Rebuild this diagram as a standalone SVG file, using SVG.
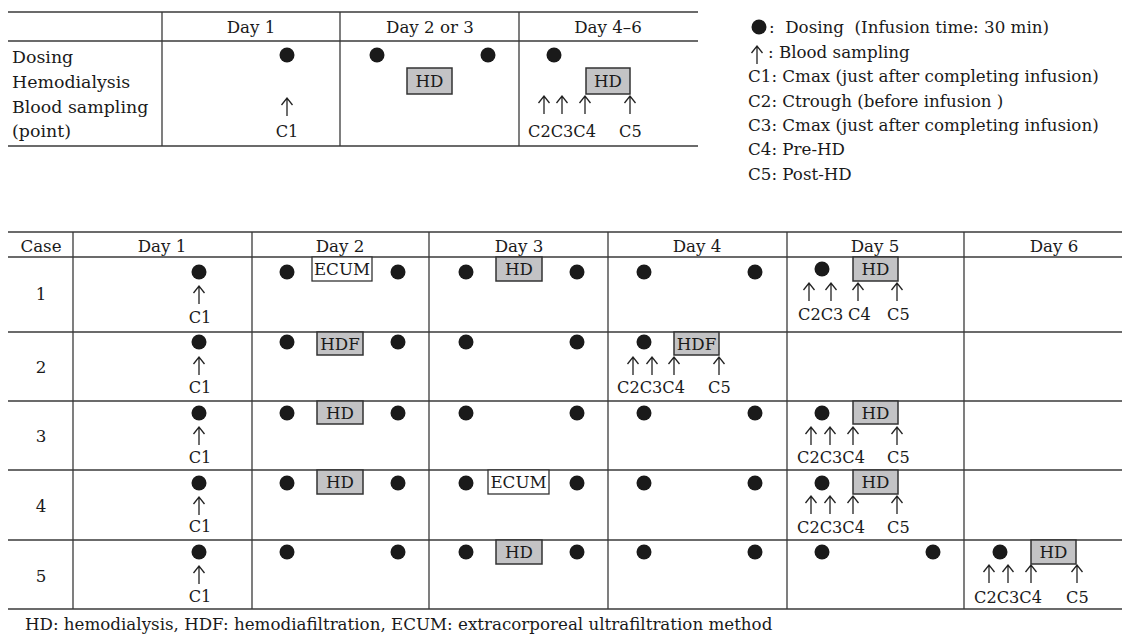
<svg xmlns="http://www.w3.org/2000/svg" width="1131" height="635" viewBox="0 0 1131 635">
<style>
text{font-family:"DejaVu Serif","Liberation Serif",serif;font-size:16.7px;fill:#1a1a1a;}
.c{text-anchor:middle;}
.s{font-size:16.2px;}
.ln{stroke:#3a3a3a;stroke-width:1.7;fill:none;}
.vl{stroke:#3a3a3a;stroke-width:1.3;fill:none;}
.dot{fill:#1a1a1a;}
.hd{fill:#c3c3c5;stroke:#333;stroke-width:1.5;}
.wb{fill:#fff;stroke:#333;stroke-width:1.3;}
.arr{stroke:#222;stroke-width:1.3;fill:none;}
</style>
<defs>
<path id="ar" class="arr" d="M0,0 V18 M-5.5,7 L0,0 L5.5,7"/>
</defs>
<rect width="1131" height="635" fill="#fff"/>

<g id="top-table">
<line class="ln" x1="8" y1="12" x2="698" y2="12"/>
<line class="ln" x1="8" y1="41" x2="698" y2="41"/>
<line class="ln" x1="8" y1="146" x2="698" y2="146"/>
<line class="vl" x1="162" y1="12" x2="162" y2="146"/>
<line class="vl" x1="340" y1="12" x2="340" y2="146"/>
<line class="vl" x1="519" y1="12" x2="519" y2="146"/>
<text class="c" x="251" y="33">Day 1</text>
<text class="c" x="430" y="33">Day 2 or 3</text>
<text class="c" x="608" y="33">Day 4–6</text>
<text x="12" y="63" style="font-size:17.4px">Dosing</text>
<text x="12" y="88" style="font-size:17.4px">Hemodialysis</text>
<text x="12" y="113" style="font-size:17.4px">Blood sampling</text>
<text x="12" y="137" style="font-size:17.4px">(point)</text>
<circle class="dot" cx="287" cy="55" r="7.5"/>
<use href="#ar" x="287" y="98"/>
<text class="c s" x="287" y="137">C1</text>
<circle class="dot" cx="377" cy="55" r="7.5"/>
<circle class="dot" cx="488" cy="55" r="7.5"/>
<rect class="hd" x="407" y="68" width="45" height="26"/>
<text class="c" x="429.5" y="87">HD</text>
<circle class="dot" cx="554" cy="55" r="7.5"/>
<rect class="hd" x="586" y="68" width="44" height="26"/>
<text class="c" x="608" y="87">HD</text>
<use href="#ar" x="544" y="96"/>
<use href="#ar" x="562" y="96"/>
<use href="#ar" x="585" y="96"/>
<use href="#ar" x="630" y="96"/>
<text class="s" x="528" y="137">C2C3C4</text>
<text class="s" x="619" y="137">C5</text>
</g>

<g id="legend">
<circle class="dot" cx="759" cy="27" r="7.5"/>
<text x="769" y="33" xml:space="preserve">:  Dosing  (Infusion time: 30 min)</text>
<use href="#ar" x="757" y="46"/>
<text x="768" y="58">: Blood sampling</text>
<text x="748" y="82">C1: Cmax (just after completing infusion)</text>
<text x="748" y="107">C2: Ctrough (before infusion )</text>
<text x="748" y="131">C3: Cmax (just after completing infusion)</text>
<text x="748" y="155">C4: Pre-HD</text>
<text x="748" y="180">C5: Post-HD</text>
</g>

<g id="bottom-grid">
<line class="ln" x1="8" y1="232" x2="1122" y2="232"/>
<line class="ln" x1="8" y1="257" x2="1122" y2="257"/>
<line class="ln" x1="8" y1="332" x2="1122" y2="332"/>
<line class="ln" x1="8" y1="401" x2="1122" y2="401"/>
<line class="ln" x1="8" y1="470" x2="1122" y2="470"/>
<line class="ln" x1="8" y1="540" x2="1122" y2="540"/>
<line class="ln" x1="8" y1="609" x2="1122" y2="609"/>
<line class="vl" x1="73" y1="232" x2="73" y2="609"/>
<line class="vl" x1="252" y1="232" x2="252" y2="609"/>
<line class="vl" x1="429" y1="232" x2="429" y2="609"/>
<line class="vl" x1="608" y1="232" x2="608" y2="609"/>
<line class="vl" x1="787" y1="232" x2="787" y2="609"/>
<line class="vl" x1="964" y1="232" x2="964" y2="609"/>
<text class="c" x="41" y="252">Case</text>
<text class="c" x="162" y="252">Day 1</text>
<text class="c" x="340" y="252">Day 2</text>
<text class="c" x="519" y="252">Day 3</text>
<text class="c" x="697" y="252">Day 4</text>
<text class="c" x="875" y="252">Day 5</text>
<text class="c" x="1054" y="252">Day 6</text>
</g>

<g id="case1">
<text class="c" x="41" y="300">1</text>
<circle class="dot" cx="199" cy="272" r="7.5"/>
<use href="#ar" x="199" y="286"/>
<text class="c s" x="200" y="323">C1</text>
<circle class="dot" cx="287" cy="272" r="7.5"/>
<rect class="wb" x="312" y="257" width="60" height="24"/>
<text class="c" x="342" y="275">ECUM</text>
<circle class="dot" cx="398" cy="272" r="7.5"/>
<circle class="dot" cx="466" cy="272" r="7.5"/>
<rect class="hd" x="496" y="257" width="46" height="24"/>
<text class="c" x="519" y="275">HD</text>
<circle class="dot" cx="577" cy="272" r="7.5"/>
<circle class="dot" cx="644" cy="272" r="7.5"/>
<circle class="dot" cx="755" cy="272" r="7.5"/>
<circle class="dot" cx="822" cy="269" r="7.5"/>
<rect class="hd" x="853" y="257" width="45" height="24"/>
<text class="c" x="875.5" y="275">HD</text>
<use href="#ar" x="809" y="283"/>
<use href="#ar" x="831" y="283"/>
<use href="#ar" x="858" y="283"/>
<use href="#ar" x="897" y="283"/>
<text class="s" x="798" y="320">C2C3</text>
<text class="s" x="848" y="320">C4</text>
<text class="s" x="887" y="320">C5</text>
</g>

<g id="case2">
<text class="c" x="41" y="373">2</text>
<circle class="dot" cx="199" cy="342" r="7.5"/>
<use href="#ar" x="199" y="357"/>
<text class="c s" x="200" y="393">C1</text>
<circle class="dot" cx="287" cy="342" r="7.5"/>
<rect class="hd" x="317" y="332" width="46" height="23"/>
<text class="c" x="340" y="350">HDF</text>
<circle class="dot" cx="398" cy="342" r="7.5"/>
<circle class="dot" cx="466" cy="342" r="7.5"/>
<circle class="dot" cx="577" cy="342" r="7.5"/>
<circle class="dot" cx="644" cy="342" r="7.5"/>
<rect class="hd" x="674" y="332" width="45" height="23"/>
<text class="c" x="696.5" y="350">HDF</text>
<use href="#ar" x="633" y="357"/>
<use href="#ar" x="652" y="357"/>
<use href="#ar" x="674" y="357"/>
<use href="#ar" x="719" y="357"/>
<text class="s" x="617" y="393">C2C3C4</text>
<text class="s" x="708" y="393">C5</text>
</g>

<g id="case3">
<text class="c" x="41" y="442">3</text>
<circle class="dot" cx="199" cy="413" r="7.5"/>
<use href="#ar" x="199" y="427"/>
<text class="c s" x="200" y="463">C1</text>
<circle class="dot" cx="287" cy="413" r="7.5"/>
<rect class="hd" x="317" y="401" width="46" height="23"/>
<text class="c" x="340" y="419">HD</text>
<circle class="dot" cx="398" cy="413" r="7.5"/>
<circle class="dot" cx="466" cy="413" r="7.5"/>
<circle class="dot" cx="577" cy="413" r="7.5"/>
<circle class="dot" cx="644" cy="413" r="7.5"/>
<circle class="dot" cx="755" cy="413" r="7.5"/>
<circle class="dot" cx="822" cy="413" r="7.5"/>
<rect class="hd" x="853" y="401" width="45" height="23"/>
<text class="c" x="875.5" y="419">HD</text>
<use href="#ar" x="811" y="427"/>
<use href="#ar" x="830" y="427"/>
<use href="#ar" x="853" y="427"/>
<use href="#ar" x="897" y="427"/>
<text class="s" x="797" y="463">C2C3C4</text>
<text class="s" x="887" y="463">C5</text>
</g>

<g id="case4">
<text class="c" x="41" y="512">4</text>
<circle class="dot" cx="199" cy="483" r="7.5"/>
<use href="#ar" x="199" y="497"/>
<text class="c s" x="200" y="532">C1</text>
<circle class="dot" cx="287" cy="483" r="7.5"/>
<rect class="hd" x="317" y="470" width="46" height="24"/>
<text class="c" x="340" y="488">HD</text>
<circle class="dot" cx="398" cy="483" r="7.5"/>
<circle class="dot" cx="466" cy="483" r="7.5"/>
<rect class="wb" x="488" y="470" width="61" height="24"/>
<text class="c" x="518.5" y="488">ECUM</text>
<circle class="dot" cx="577" cy="483" r="7.5"/>
<circle class="dot" cx="644" cy="483" r="7.5"/>
<circle class="dot" cx="755" cy="483" r="7.5"/>
<circle class="dot" cx="822" cy="483" r="7.5"/>
<rect class="hd" x="853" y="470" width="45" height="24"/>
<text class="c" x="875.5" y="488">HD</text>
<use href="#ar" x="811" y="496"/>
<use href="#ar" x="830" y="496"/>
<use href="#ar" x="853" y="496"/>
<use href="#ar" x="897" y="496"/>
<text class="s" x="797" y="533">C2C3C4</text>
<text class="s" x="887" y="533">C5</text>
</g>

<g id="case5">
<text class="c" x="41" y="582">5</text>
<circle class="dot" cx="199" cy="552" r="7.5"/>
<use href="#ar" x="199" y="566"/>
<text class="c s" x="200" y="602">C1</text>
<circle class="dot" cx="287" cy="552" r="7.5"/>
<circle class="dot" cx="398" cy="552" r="7.5"/>
<circle class="dot" cx="466" cy="552" r="7.5"/>
<rect class="hd" x="496" y="540" width="46" height="24"/>
<text class="c" x="519" y="558">HD</text>
<circle class="dot" cx="577" cy="552" r="7.5"/>
<circle class="dot" cx="644" cy="552" r="7.5"/>
<circle class="dot" cx="755" cy="552" r="7.5"/>
<circle class="dot" cx="822" cy="552" r="7.5"/>
<circle class="dot" cx="933" cy="552" r="7.5"/>
<circle class="dot" cx="1000" cy="552" r="7.5"/>
<rect class="hd" x="1031" y="540" width="45" height="24"/>
<text class="c" x="1053.5" y="558">HD</text>
<use href="#ar" x="989" y="565"/>
<use href="#ar" x="1008" y="565"/>
<use href="#ar" x="1031" y="565"/>
<use href="#ar" x="1077" y="565"/>
<text class="s" x="974" y="603">C2C3C4</text>
<text class="s" x="1066" y="603">C5</text>
</g>

<text x="25" y="630">HD: hemodialysis, HDF: hemodiafiltration, ECUM: extracorporeal ultrafiltration method</text>
</svg>
